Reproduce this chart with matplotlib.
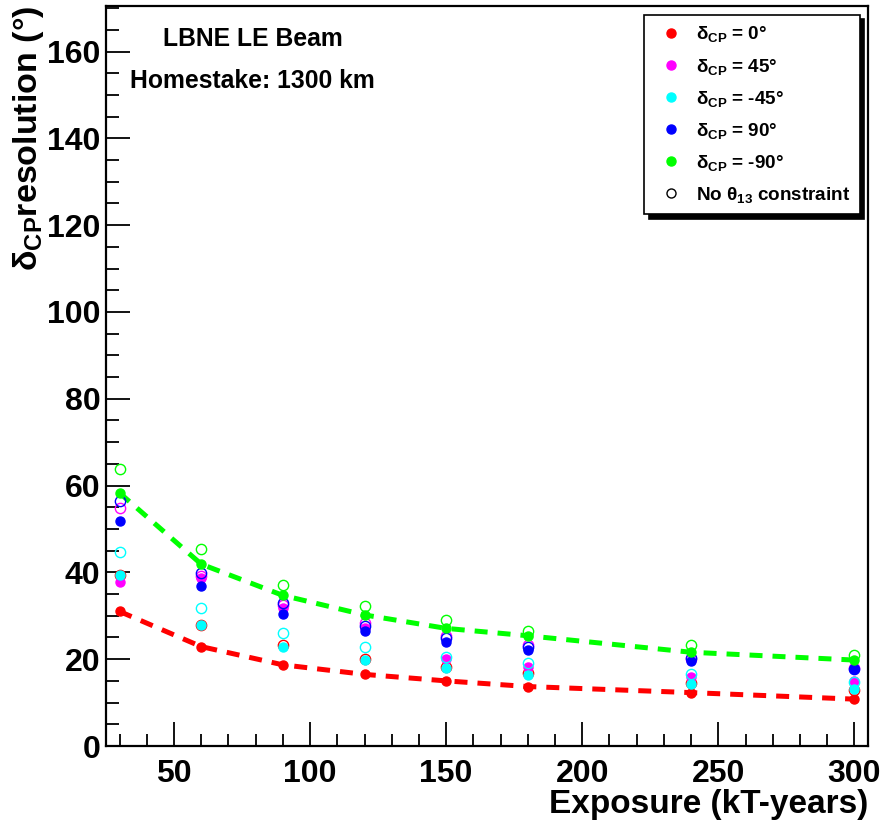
import matplotlib
matplotlib.use("Agg")
import matplotlib.pyplot as plt
from matplotlib.lines import Line2D
from matplotlib.ticker import MultipleLocator

plt.rcParams['font.family'] = ['Liberation Sans', 'DejaVu Sans']
plt.rcParams['font.weight'] = 'bold'
plt.rcParams['axes.labelweight'] = 'bold'
plt.rcParams['mathtext.default'] = 'regular'

# exposure points (kT-years)
exposure = [30, 60, 90, 120, 150, 180, 240, 300]

# delta_CP resolution (deg), with theta13 constraint (filled) and without (open)
res_0 = [31.0, 22.9, 18.7, 16.5, 15.0, 13.7, 12.3, 10.8]
res_0_free = [39.3, 27.9, 23.3, 20.0, 18.1, 16.8, 14.5, 12.8]
res_45 = [37.7, 38.6, 31.7, 27.3, 20.0, 18.3, 16.0, 15.0]
res_45_free = [54.9, 39.2, 32.5, 28.3, 25.4, 23.3, 20.0, 17.9]
res_m45 = [39.4, 27.9, 22.9, 19.8, 17.9, 16.4, 14.4, 13.1]
res_m45_free = [44.7, 31.9, 26.1, 22.9, 20.6, 19.1, 16.6, 14.8]
res_90 = [51.9, 36.9, 30.4, 26.5, 24.0, 22.1, 19.6, 17.7]
res_90_free = [56.4, 39.8, 32.9, 27.6, 24.8, 22.7, 20.2, 17.8]
res_m90 = [58.3, 41.9, 34.7, 30.2, 27.1, 25.4, 21.6, 19.8]
res_m90_free = [63.9, 45.4, 37.1, 32.3, 29.0, 26.6, 23.3, 21.0]

series = [
    (r'$\delta_{CP}$ = 0°', '#ff0000', res_0, res_0_free),
    (r'$\delta_{CP}$ = 45°', '#ff00ff', res_45, res_45_free),
    (r'$\delta_{CP}$ = -45°', '#00ffff', res_m45, res_m45_free),
    (r'$\delta_{CP}$ = 90°', '#0000ff', res_90, res_90_free),
    (r'$\delta_{CP}$ = -90°', '#00ff00', res_m90, res_m90_free),
]

fig = plt.figure(figsize=(8.85, 8.24), dpi=100)
ax = fig.add_axes([106 / 885, 78 / 824, 762 / 885, 740 / 824])

# dashed guide curves through the 0 and -90 sets
ax.plot(exposure, res_m90, color='#00ff00', lw=3.6, dashes=(2.6, 2.0), zorder=1)
ax.plot(exposure, res_0, color='#ff0000', lw=3.6, dashes=(2.6, 2.0), zorder=1)

for label, col, filled, free in series:
    ax.plot(exposure, filled, 'o', color=col, ms=6.5, mec=col, zorder=3)
    ax.plot(exposure, free, 'o', mfc='none', mec=col, ms=7.4, mew=1.0, zorder=3)

ax.set_xlim(25, 305)
ax.set_ylim(0, 170.5)
ax.xaxis.set_major_locator(MultipleLocator(50))
ax.xaxis.set_minor_locator(MultipleLocator(10))
ax.yaxis.set_major_locator(MultipleLocator(20))
ax.yaxis.set_minor_locator(MultipleLocator(5))
ax.tick_params(which='both', direction='in', top=False, right=False, width=1.3)
ax.tick_params(which='major', length=17)
ax.tick_params(which='minor', length=9)
ax.tick_params(axis='x', which='major', labelsize=23, pad=9)
ax.tick_params(axis='y', which='major', labelsize=23, pad=4)
for s in ax.spines.values():
    s.set_linewidth(1.6)

ax.set_xlabel('Exposure (kT-years)', fontsize=24, fontweight='bold', loc='right', labelpad=0)
ax.set_ylabel(r'$\delta_{CP}$resolution (°)', fontsize=24.5, fontweight='bold',
              loc='top', labelpad=1)

ax.text(0.193, 0.955, 'LBNE LE Beam', transform=ax.transAxes, fontsize=17.8,
        ha='center', va='center')
ax.text(0.192, 0.899, 'Homestake: 1300 km', transform=ax.transAxes, fontsize=17.8,
        ha='center', va='center')

handles = [Line2D([], [], ls='none', marker='o', color=c, ms=6.5) for _, c, _, _ in series]
handles.append(Line2D([], [], ls='none', marker='o', mfc='none', mec='black', ms=6.5, mew=1.0))
labels = [s[0] for s in series] + [r'No $\theta_{13}$ constraint']
leg = ax.legend(handles, labels, loc='upper right', bbox_to_anchor=(0.9895, 0.9878),
                fontsize=13.6, frameon=True, fancybox=False, edgecolor='black',
                shadow={'color': 'black', 'alpha': 1.0, 'ox': 3, 'oy': -3},
                handlelength=1.8, handletextpad=0.45, labelspacing=0.64,
                borderpad=0.5, borderaxespad=0)
leg.get_frame().set_linewidth(1.2)

fig.savefig('out.png', dpi=100)
